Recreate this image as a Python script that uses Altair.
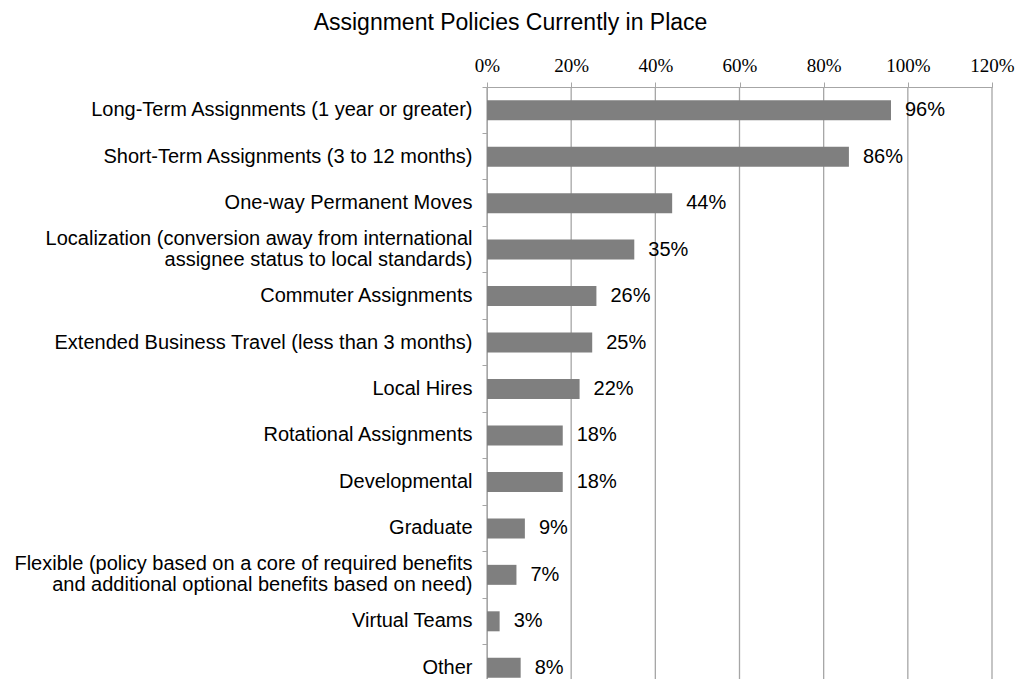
import altair as alt
import pandas as pd

categories = [
    "Long-Term Assignments (1 year or greater)",
    "Short-Term Assignments (3 to 12 months)",
    "One-way Permanent Moves",
    "Localization (conversion away from international|assignee status to local standards)",
    "Commuter Assignments",
    "Extended Business Travel (less than 3 months)",
    "Local Hires",
    "Rotational Assignments",
    "Developmental",
    "Graduate",
    "Flexible (policy based on a core of required benefits|and additional optional benefits based on need)",
    "Virtual Teams",
    "Other",
]
values = [96, 86, 44, 35, 26, 25, 22, 18, 18, 9, 7, 3, 8]
tick_values = [0, 0.2, 0.4, 0.6, 0.8, 1.0, 1.2]

df = pd.DataFrame({
    "category": categories,
    "share": [v / 100 for v in values],
    "label": [f"{v}%" for v in values],
})
grid_df = pd.DataFrame({"share": tick_values})

SANS = "Liberation Sans"
SERIF = "Liberation Serif"
BAND_RANGE = 604

xscale = alt.Scale(domain=[0, 1.2], nice=False, zero=True)
yscale = alt.Scale(domain=categories, range=[0, BAND_RANGE], paddingInner=0, paddingOuter=0)

xaxis = alt.Axis(
    orient="top", values=tick_values, format=".0%", title=None,
    labelFont=SERIF, labelFontSize=19, labelColor="#000000",
    labelPadding=7, labelFlush=False, tickSize=5, tickColor="#a6a6a6",
    domainColor="#a6a6a6", grid=False,
)
yaxis = alt.Axis(
    title=None, labelFont=SANS, labelFontSize=20, labelColor="#000000",
    labelExpr="split(datum.label, '|')", labelLineHeight=21,
    labelLimit=0, labelPadding=10, bandPosition=0,
    labelOffset={"condition": {"test": "indexof(datum.value, '|') >= 0", "value": -10.5}, "value": 0},
    tickSize=5, tickColor="#a6a6a6", domainColor="#a6a6a6", grid=False,
)

grid = alt.Chart(grid_df).mark_rule(color="#a6a6a6", strokeWidth=1.3).encode(
    x=alt.X("share:Q", scale=xscale, axis=xaxis),
    y=alt.value(0),
    y2=alt.value(640),
)

bars = alt.Chart(df).mark_bar(color="#7f7f7f", size=20).encode(
    x=alt.X("share:Q", scale=xscale, axis=xaxis),
    y=alt.Y("category:N", scale=yscale, sort=None, axis=yaxis),
)

text = alt.Chart(df).mark_text(
    font=SANS, fontSize=20, align="left", baseline="middle", dx=14, color="#000000"
).encode(
    x=alt.X("share:Q", scale=xscale, axis=xaxis),
    y=alt.Y("category:N", scale=yscale, sort=None, axis=yaxis),
    text="label:N",
)

chart = alt.layer(grid, bars, text).properties(
    width=505,
    height=592,
    padding={"left": 479, "top": 79, "right": 23, "bottom": 0},
    autosize=alt.AutoSizeParams(type="none"),
    title=alt.TitleParams(
        "Assignment Policies Currently in Place",
        font=SANS, fontSize=23, fontWeight="normal", color="#000000",
        anchor="middle", dx=-229, offset=21,
    ),
).configure_view(stroke=None)

chart.save("out.html", embed_options={"renderer": "svg", "actions": False})
